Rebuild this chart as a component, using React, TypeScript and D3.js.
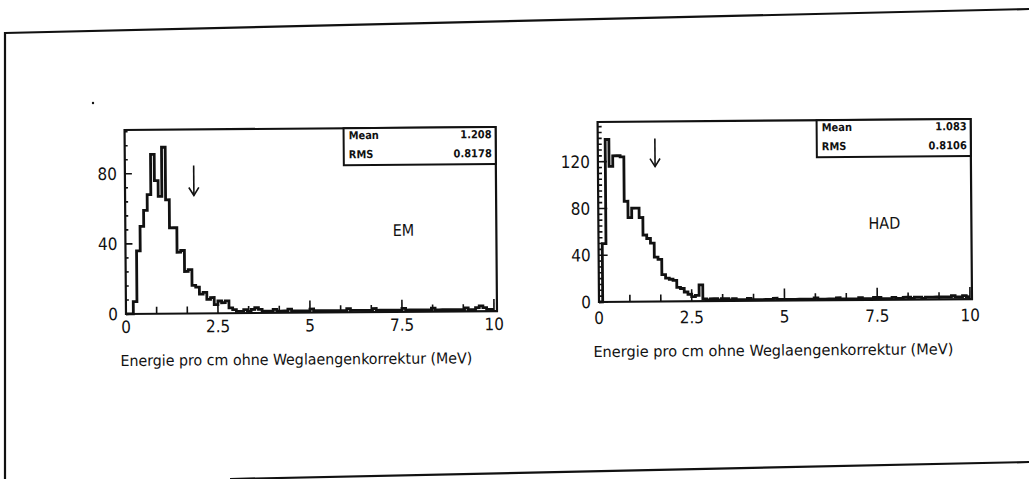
import React from "react";
import * as d3 from "d3";

// Energy deposit per cm (MeV), 100 bins of 0.1 MeV from 0 to 10
const binWidth = 0.1;
const emCounts = [
  0, 0, 7, 36, 50, 59, 68, 91, 76, 67,
  95, 65, 49, 49, 35, 36, 24, 25, 16, 15,
  11, 12, 8, 9, 5, 7, 6, 7, 3, 2,
  1, 1, 2, 1, 2, 3, 2, 1, 1, 1,
  2, 1, 1, 1, 2, 1, 1, 1, 1, 1,
  2, 1, 1, 1, 1, 1, 1, 1, 1, 1,
  2, 1, 1, 1, 1, 1, 1, 2, 1, 1,
  1, 1, 1, 1, 1, 2, 1, 1, 1, 1,
  1, 1, 1, 2, 1, 1, 1, 1, 1, 1,
  1, 1, 2, 1, 1, 2, 3, 2, 1, 1,
];
const hadCounts = [
  0, 50, 139, 116, 125, 125, 124, 86, 72, 80,
  80, 72, 57, 54, 50, 38, 36, 23, 20, 19,
  18, 12, 11, 8, 6, 4, 5, 14, 2, 1,
  2, 2, 1, 2, 2, 1, 2, 1, 1, 1,
  2, 1, 1, 1, 1, 1, 1, 2, 1, 1,
  1, 1, 1, 1, 1, 1, 1, 1, 2, 1,
  1, 1, 1, 1, 2, 1, 1, 1, 1, 1,
  2, 1, 1, 1, 2, 2, 1, 1, 1, 2,
  1, 1, 2, 2, 1, 2, 2, 1, 2, 2,
  2, 2, 2, 2, 2, 3, 2, 2, 3, 2,
];

const xTicks = [0, 2.5, 5, 7.5, 10];
const xTickLabels = ["0", "2.5", "5", "7.5", "10"];
const emYTicks = [0, 40, 80];
const hadYTicks = [0, 40, 80, 120];

const emStats = { mean: "1.208", rms: "0.8178" };
const hadStats = { mean: "1.083", rms: "0.8106" };
const emCut = 1.87;
const hadCut = 1.54;

const axisTitle = "Energie pro cm ohne Weglaengenkorrektur (MeV)";
const FONT = "'Liberation Sans Narrow', 'DejaVu Sans Condensed', 'Liberation Sans', sans-serif";

type PanelProps = {
  counts: number[];
  left: number;
  right: number;
  bottom: number;
  top: number;
  xMaxPx: number;
  yMax: number;
  yTicks: number[];
  yMinorStep: number;
  yMajorLen: number;
  yMinorLen: number;
  stats: { mean: string; rms: string };
  boxLeft: number;
  boxBottom: number;
  cut: number;
  cutTop: number;
  cutBottom: number;
  label: string;
  labelX: number;
  labelY: number;
  titleY: number;
  titleX: number;
  titleLen: number;
  tickLabelY: number;
};

function Panel(p: PanelProps) {
  const x = d3.scaleLinear().domain([0, 10]).range([p.left, p.xMaxPx]);
  const y = d3.scaleLinear().domain([0, p.yMax]).range([p.bottom, p.top]);

  const pts: [number, number][] = p.counts.map((c, i) => [i * binWidth, c]);
  pts.push([10, p.counts[p.counts.length - 1]]);
  const step = d3
    .line<[number, number]>()
    .x((d) => x(d[0]))
    .y((d) => y(d[1]))
    .curve(d3.curveStepAfter);
  const path = step(pts) ?? "";

  const minorX = d3.range(0, 10.001, 2.5 / 3);
  const minorY = d3.range(0, p.yMax, p.yMinorStep);

  const ax = x(p.cut);
  return (
    <g transform={`rotate(-0.45, ${p.left}, ${p.bottom})`}>
      {/* histogram */}
      <path d={path} fill="none" stroke="#111" strokeWidth={2.8} strokeLinejoin="miter" />
      {/* x ticks, pointing inward */}
      {minorX.map((v, i) => {
        const major = Math.abs(v / 2.5 - Math.round(v / 2.5)) < 1e-6;
        return (
          <line
            key={"xt" + i}
            x1={x(v)}
            x2={x(v)}
            y1={p.bottom}
            y2={p.bottom - (major ? 12 : 7)}
            stroke="#111"
            strokeWidth={1.6}
          />
        );
      })}
      {/* y ticks */}
      {minorY.map((v, i) => {
        const major = p.yTicks.includes(v);
        return (
          <line
            key={"yt" + i}
            x1={p.left}
            x2={p.left + (major ? p.yMajorLen : p.yMinorLen)}
            y1={y(v)}
            y2={y(v)}
            stroke="#111"
            strokeWidth={1.6}
          />
        );
      })}
      {/* frame */}
      <rect
        x={p.left}
        y={p.top}
        width={p.right - p.left}
        height={p.bottom - p.top}
        fill="none"
        stroke="#111"
        strokeWidth={2.2}
      />
      {/* statistics box */}
      <rect
        x={p.boxLeft}
        y={p.top}
        width={p.right - p.boxLeft}
        height={p.boxBottom - p.top}
        fill="white"
        stroke="#111"
        strokeWidth={2}
      />
      <g fontFamily={FONT} fontSize={11} fontWeight="bold" fill="#111">
        <text x={p.boxLeft + 5} y={p.top + 11}>Mean</text>
        <text x={p.right - 4} y={p.top + 11} textAnchor="end">{p.stats.mean}</text>
        <text x={p.boxLeft + 5} y={p.top + 30}>RMS</text>
        <text x={p.right - 4} y={p.top + 30} textAnchor="end">{p.stats.rms}</text>
      </g>
      {/* cut marker */}
      <line x1={ax} x2={ax} y1={p.cutTop} y2={p.cutBottom} stroke="#111" strokeWidth={1.6} />
      <path
        d={`M${ax - 5},${p.cutBottom - 8} L${ax},${p.cutBottom} L${ax + 5},${p.cutBottom - 8}`}
        fill="none"
        stroke="#111"
        strokeWidth={1.6}
      />
      <text x={p.labelX} y={p.labelY} fontFamily={FONT} fontSize={16} textAnchor="middle" fill="#111">
        {p.label}
      </text>
      {/* axis labels */}
      <g fontFamily={FONT} fontSize={17} fill="#111">
        {xTicks.map((v, i) => (
          <text key={"xl" + i} x={x(v)} y={p.tickLabelY} textAnchor="middle">
            {xTickLabels[i]}
          </text>
        ))}
        {p.yTicks.map((v) => (
          <text key={"yl" + v} x={p.left - 8} y={y(v) + 6} textAnchor="end">
            {v}
          </text>
        ))}
      </g>
      <text
        x={p.titleX}
        y={p.titleY}
        fontFamily={FONT}
        fontSize={15}
        textLength={p.titleLen}
        lengthAdjust="spacingAndGlyphs"
        fill="#111"
      >
        {axisTitle}
      </text>
    </g>
  );
}

export default function App() {
  return (
    <svg
      width={1029}
      height={479}
      style={{ position: "absolute", left: 0, top: 0, background: "white" }}
    >
      <rect x={0} y={0} width={1029} height={479} fill="white" />
      {/* page border */}
      <line x1={5} y1={33} x2={1029} y2={9} stroke="#111" strokeWidth={2.2} />
      <line x1={5} y1={32} x2={5} y2={479} stroke="#111" strokeWidth={2.2} />
      <line x1={230} y1={479} x2={1029} y2={462} stroke="#111" strokeWidth={2.2} />
      <circle cx={93} cy={103} r={1.2} fill="#111" />
      <Panel
        counts={emCounts}
        left={126}
        right={497}
        bottom={314}
        top={130}
        xMaxPx={494}
        yMax={105}
        yTicks={emYTicks}
        yMinorStep={8}
        yMajorLen={7}
        yMinorLen={3}
        stats={emStats}
        boxLeft={345}
        boxBottom={167}
        cut={emCut}
        cutTop={166}
        cutBottom={196}
        label="EM"
        labelX={404}
        labelY={238}
        titleX={120}
        titleY={366}
        titleLen={352}
        tickLabelY={333}
      />
      <Panel
        counts={hadCounts}
        left={599}
        right={972}
        bottom={302}
        top={122}
        xMaxPx={970}
        yMax={154}
        yTicks={hadYTicks}
        yMinorStep={5}
        yMajorLen={9}
        yMinorLen={4}
        stats={hadStats}
        boxLeft={818}
        boxBottom={159}
        cut={hadCut}
        cutTop={139}
        cutBottom={167}
        label="HAD"
        labelX={885}
        labelY={231}
        titleX={593}
        titleY={357}
        titleLen={360}
        tickLabelY={324}
      />
    </svg>
  );
}
